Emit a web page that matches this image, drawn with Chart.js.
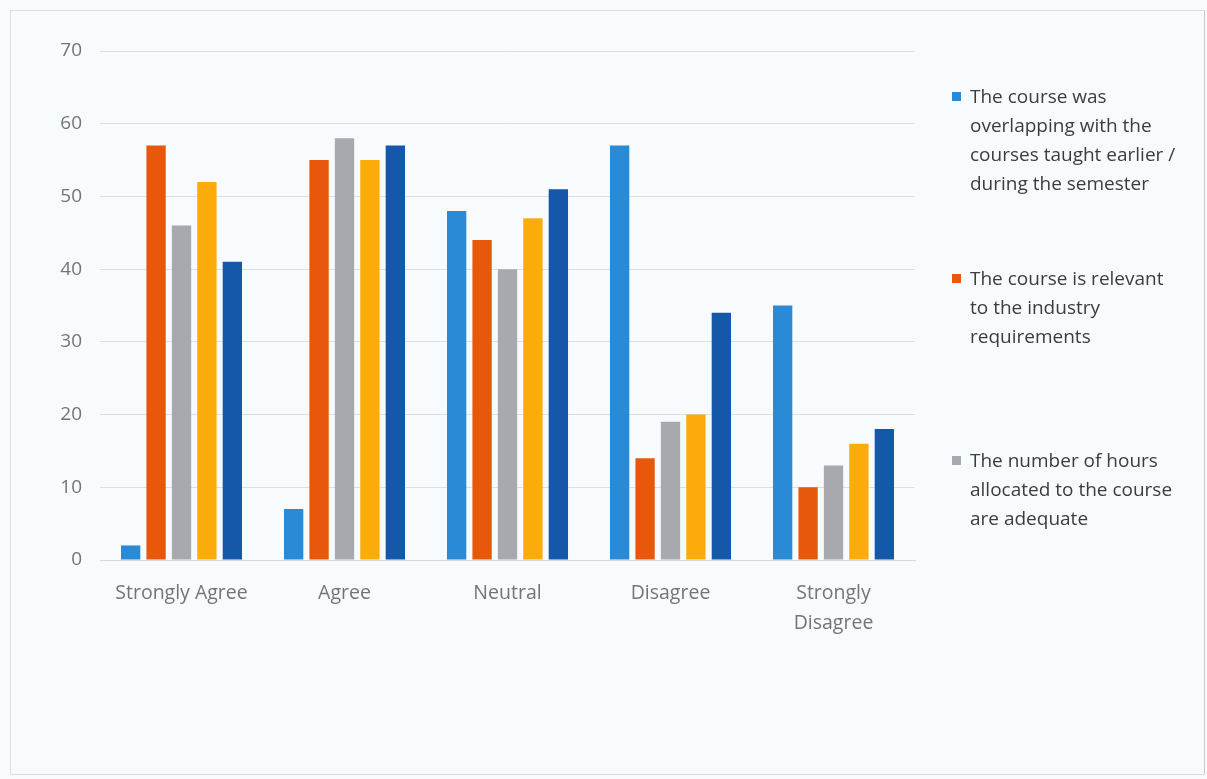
<!DOCTYPE html>
<html>
<head>
<meta charset="utf-8">
<script src="https://cdn.jsdelivr.net/npm/chart.js@4.4.1/dist/chart.umd.min.js"></script>
<style>
  html, body { margin: 0; padding: 0; background: #f8fbfd; }
  #wrap { position: relative; width: 1207px; height: 779px; overflow: hidden; }
  #frame {
    position: absolute; left: 10px; top: 10px; right: 2px; bottom: 4px;
    border: 1px solid #dcdfe2; border-right-color: #c8cbce; pointer-events: none;
  }
  #chart { position: absolute; left: 0; top: 0; }
  .legend { position: absolute; left: 952px; top: 82px; width: 250px;
    font-family: "Open Sans", sans-serif; font-size: 19px; line-height: 29px; color: #3c3c3c; }
  .item { position: absolute; left: 0; padding-left: 18px; white-space: nowrap; }
  .item .box { position: absolute; left: 0; top: 10px; width: 9px; height: 9px; }
</style>
</head>
<body>
<div id="wrap">
  <canvas id="chart" width="1207" height="779"></canvas>
  <div id="frame"></div>
  <div class="legend" id="legend"></div>
</div>
<script>
// Response categories and one series per statement
const categories = ["Strongly Agree", "Agree", "Neutral", "Disagree", ["Strongly", "Disagree"]];
const overlapping = [2, 7, 48, 57, 35];
const relevant = [57, 55, 44, 14, 10];
const hoursAdequate = [46, 58, 40, 19, 13];
const series4 = [52, 55, 47, 20, 16];
const series5 = [41, 57, 51, 34, 18];
const yTicks = [0, 10, 20, 30, 40, 50, 60, 70];

const legendNames = [
  ["The course was", "overlapping with the", "courses taught earlier /", "during the semester"],
  ["The course is relevant", "to the industry", "requirements"],
  ["The number of hours", "allocated to the course", "are adequate"],
];
const colors = ["#2a8ad6", "#e8580c", "#a8a9ae", "#fcac0a", "#1558a9"];

const values = [overlapping, relevant, hoursAdequate, series4, series5];
const datasets = values.map((v, i) => ({
  label: legendNames[i] ? legendNames[i].join(" ") : "",
  data: v,
  backgroundColor: colors[i],
  barPercentage: 0.76,
  categoryPercentage: 0.78,
}));

new Chart(document.getElementById("chart"), {
  type: "bar",
  data: { labels: categories, datasets },
  options: {
    responsive: false,
    animation: false,
    layout: { padding: { top: 51, right: 292, left: 0, bottom: 0 } },
    plugins: { legend: { display: false }, tooltip: { enabled: false } },
    scales: {
      x: {
        grid: { display: false, drawTicks: false },
        border: { color: "#d6d9dc" },
        ticks: { color: "#747474", padding: 18, font: { family: "Open Sans", size: 19.5, lineHeight: 1.54 }, maxRotation: 0 },
        afterFit: s => { s.height = 219; },
      },
      y: {
        min: 0, max: 70,
        afterBuildTicks: s => { s.ticks = yTicks.map(v => ({ value: v })); },
        grid: { color: "#dcdfe2", drawTicks: false },
        border: { display: false },
        ticks: { color: "#747474", padding: 18, font: { family: "Open Sans", size: 19 } },
        afterFit: s => { s.width = 100; },
      },
    },
  },
});

// Legend on the right, three statements
const legend = document.getElementById("legend");
const tops = [0, 182, 364];
legendNames.forEach((lines, i) => {
  const el = document.createElement("div");
  el.className = "item";
  el.style.top = tops[i] + "px";
  el.innerHTML = `<span class="box" style="background:${colors[i]}"></span>` + lines.join("<br>");
  legend.appendChild(el);
});
</script>
</body>
</html>
